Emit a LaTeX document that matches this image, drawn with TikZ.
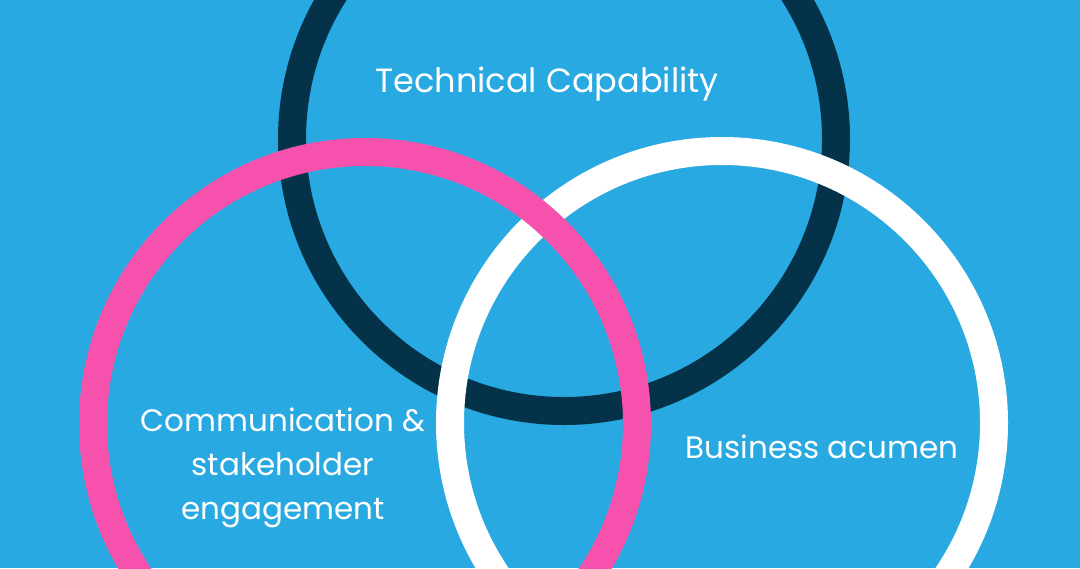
\documentclass[tikz,border=0pt]{standalone}
\usepackage{fontspec}
\setmainfont{Poppins}
\usetikzlibrary{calc}
\definecolor{skyblue}{HTML}{28A9E1}
\definecolor{navy}{HTML}{033249}
\definecolor{hotpink}{HTML}{F652AD}
\tikzset{ring/.style={line width=14pt},
  label text/.style={text=white, font=\fontsize{15.5}{22}\selectfont, align=center, inner sep=0pt}}

\begin{document}
\begin{tikzpicture}[x=0.5pt,y=-0.5pt]
\pgfmathsetmacro{\rad}{272}
\fill[skyblue] (0,0) rectangle (1080,568);
\useasboundingbox (0,0) rectangle (1080,568);
\clip (0,0) rectangle (1080,568);
\coordinate (tech) at (564,139);
\coordinate (comm) at (365,424);
\coordinate (biz) at (722,423);
% rings, navy at the back
\draw[ring, navy] (tech) circle[radius=\rad];
\draw[ring, white] (biz) circle[radius=\rad];
\draw[ring, hotpink] (comm) circle[radius=\rad];
\node[label text, font=\fontsize{16.8}{22}\selectfont] (techlabel) at (547,84) {Technical Capability};
\node[label text] (commlabel) at (283,468) {Communication \&\\stakeholder\\engagement};
\node[label text] (bizlabel) at (822,447) {Business acumen};
\end{tikzpicture}
\end{document}
